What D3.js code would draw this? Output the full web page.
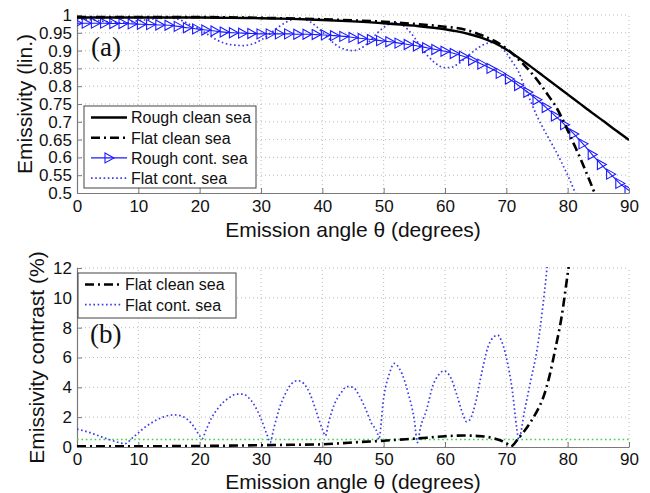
<!DOCTYPE html>
<html>
<head>
<meta charset="utf-8">
<script src="https://cdn.jsdelivr.net/npm/d3@7"></script>
<style>
  html, body { margin: 0; padding: 0; background: #fff; }
  svg { display: block; }
  text { font-family: "Liberation Sans", Arial, Helvetica, sans-serif; fill: #111; }
</style>
</head>
<body>
<svg id="chart" width="650" height="493"></svg>
<script>
// ---------- (a) emissivity versus emission angle ----------
const roughCleanAngles = [0,5,10,15,20,25,30,35,40,45,50,55,60,62,64,66,68,70,72,74,76,78,80,82,84,86,88,90];
const roughCleanSea    = [0.993,0.993,0.993,0.993,0.993,0.992,0.991,0.989,0.986,0.982,0.977,0.970,0.960,0.954,0.946,0.936,0.922,0.903,0.880,0.855,0.829,0.803,0.777,0.751,0.725,0.700,0.674,0.649];

const flatCleanAngles = [0,10,20,30,40,45,50,55,60,63,66,68,70,71,72,73,74,75,76,77,78,79,80,81,82,83,84,85];
const flatCleanSea    = [0.994,0.994,0.994,0.992,0.988,0.985,0.981,0.975,0.967,0.960,0.943,0.928,0.906,0.892,0.875,0.858,0.839,0.818,0.795,0.770,0.745,0.713,0.676,0.638,0.600,0.559,0.517,0.472];

// rough contaminated sea, one marker per sample (every 1.5 degrees)
const roughContAngles = [0,1.5,3,4.5,6,7.5,9,10.5,12,13.5,15,16.5,18,19.5,21,22.5,24,25.5,27,28.5,30,31.5,33,34.5,36,37.5,39,40.5,42,43.5,45,46.5,48,49.5,51,52.5,54,55.5,57,58.5,60,61.5,63,64.5,66,67.5,69,70.5,72,73.5,75,76.5,78,79.5,81,82.5,84,85.5,87,88.5,90];
const roughContSea    = [0.977,0.977,0.977,0.977,0.976,0.976,0.975,0.974,0.973,0.972,0.971,0.968,0.964,0.961,0.958,0.955,0.952,0.950,0.949,0.948,0.947,0.947,0.947,0.947,0.946,0.946,0.945,0.944,0.942,0.940,0.937,0.934,0.931,0.928,0.925,0.921,0.917,0.913,0.908,0.903,0.898,0.892,0.884,0.873,0.862,0.850,0.836,0.820,0.802,0.783,0.762,0.740,0.716,0.692,0.666,0.638,0.608,0.580,0.553,0.527,0.507];

const flatContAngles = d3.range(0, 83);
const flatContSea    = [0.989,0.988,0.987,0.985,0.983,0.981,0.980,0.978,0.978,0.981,0.984,0.986,0.988,0.990,0.991,0.992,0.990,0.985,0.977,0.968,0.960,0.949,0.938,0.928,0.921,0.917,0.915,0.914,0.916,0.921,0.930,0.941,0.955,0.968,0.979,0.986,0.990,0.988,0.981,0.968,0.952,0.935,0.919,0.908,0.902,0.900,0.904,0.915,0.932,0.950,0.965,0.975,0.978,0.972,0.958,0.937,0.912,0.889,0.871,0.858,0.852,0.853,0.861,0.874,0.889,0.903,0.914,0.921,0.923,0.912,0.893,0.868,0.840,0.797,0.756,0.716,0.682,0.651,0.620,0.586,0.550,0.510,0.470];

// ---------- (b) emissivity contrast (%) ----------
const contrastCleanAngles = [0,10,20,30,35,40,43,46,50,52,55,57,60,63,66,68,69,70,70.7,72,73,74,75,76,77,78,79,80,81];
const contrastCleanSea    = [0.05,0.05,0.07,0.12,0.15,0.18,0.25,0.33,0.42,0.48,0.56,0.62,0.72,0.77,0.72,0.58,0.45,0.25,0.03,0.6,1.1,1.7,2.4,3.3,4.7,6.6,8.7,11.6,14.5];

const contrastContAngles = [0,1,2,3,4,5,6,7,7.8,9,10,11,12,13,14,15,16,17,18,19,20,20.4,21,22,23,24,25,26,27,28,29,30,31,31.5,32,33,34,35,36,37,38,39,40,40.5,41,42,43,44,45,46,47,48,49,49.2,50,51,51.7,52.5,53,54,55,55.5,56,57,58,59,59.8,61,62,63,63.5,64,65,66,67,68,68.6,69,70,71,71.7,72,73,74,75,76,77];
const contrastContSea    = [1.2,1.1,0.98,0.83,0.68,0.53,0.4,0.28,0.22,0.6,0.95,1.3,1.58,1.82,2.0,2.12,2.15,2.08,1.85,1.4,0.75,0.55,1.1,2.0,2.6,3.05,3.35,3.55,3.55,3.3,2.75,1.9,0.8,0.3,1.1,2.6,3.6,4.25,4.45,4.25,3.55,2.4,1.2,0.75,1.6,2.9,3.6,4.05,4.0,3.45,2.6,1.6,0.9,0.5,3.3,5.0,5.6,5.3,4.9,3.6,1.8,0.3,1.3,2.5,4.1,4.85,5.1,4.6,3.4,2.1,1.7,1.8,3.0,5.0,6.7,7.4,7.5,7.3,6.0,3.7,1.25,0.5,2.5,4.5,6.5,9.6,13.5];

const thresholdAngles = [0, 90];
const thresholdLevel  = [0.5, 0.5];

// ---------- ticks and labels ----------
const xTicks = [0,10,20,30,40,50,60,70,80,90];
const yTicksA = [0.5,0.55,0.6,0.65,0.7,0.75,0.8,0.85,0.9,0.95,1];
const yTicksB = [0,2,4,6,8,10,12];
const xTitle = "Emission angle \u03b8 (degrees)";
const yTitleA = "Emissivity (lin.)";
const yTitleB = "Emissivity contrast (%)";
const legendA = ["Rough clean sea", "Flat clean sea", "Rough cont. sea", "Flat cont. sea"];
const legendB = ["Flat clean sea", "Flat cont. sea"];

// ---------- styles ----------
const BLUE = "#1a1aff";
const BLUE_DOT = "#3b3be8";
const styles = {
  roughClean: { stroke: "#000", width: 2.4, dash: null },
  flatClean:  { stroke: "#000", width: 2.6, dash: "9,4,2,4" },
  roughCont:  { stroke: BLUE, width: 1.1, dash: null },
  flatCont:   { stroke: BLUE_DOT, width: 1.7, dash: "1.6,2.6" },
  threshold:  { stroke: "#3ed43e", width: 1.6, dash: "1.6,2.8" }
};

const svg = d3.select("#chart");
const left = 77, right = 629;

function zip(a, b) { return a.map((v, i) => [v, b[i]]); }

function panel(id, yDomain, top, bottom, yTicks, yFmt, yTitle, yTitleX, xPad, xTitleGap) {
  const x = d3.scaleLinear().domain([0, 90]).range([left, right]);
  const y = d3.scaleLinear().domain(yDomain).range([bottom, top]);
  const g = svg.append("g");

  g.append("clipPath").attr("id", "clip-" + id)
    .append("rect").attr("x", left).attr("y", top - 1)
    .attr("width", right - left).attr("height", bottom - top + 1);

  // dotted grid
  const grid = g.append("g").attr("stroke", "#a8a8a8").attr("stroke-width", 0.8)
    .attr("stroke-dasharray", "1,3");
  grid.selectAll(".gx").data(xTicks.slice(1)).join("line")
    .attr("x1", d => x(d)).attr("x2", d => x(d)).attr("y1", bottom).attr("y2", top);
  grid.selectAll(".gy").data(yTicks.slice(1)).join("line")
    .attr("x1", left).attr("x2", right).attr("y1", d => y(d)).attr("y2", d => y(d));

  // axes with inward ticks
  const ax = g.append("g").attr("transform", `translate(0,${bottom})`)
    .call(d3.axisBottom(x).tickValues(xTicks).tickSizeInner(-5).tickSizeOuter(0).tickPadding(xPad));
  const ay = g.append("g").attr("transform", `translate(${left},0)`)
    .call(d3.axisLeft(y).tickValues(yTicks).tickFormat(yFmt).tickSizeInner(-5).tickSizeOuter(0).tickPadding(5));
  [ax, ay].forEach(a => {
    a.select(".domain").attr("stroke", "#7a7a7a").attr("stroke-width", 1.2);
    a.selectAll(".tick line").attr("stroke", "#7a7a7a");
    a.selectAll(".tick text").attr("font-size", 17)
      .attr("font-family", "'Liberation Sans', Arial, Helvetica, sans-serif").attr("fill", "#111");
  });

  g.append("text").attr("x", (left + right) / 2).attr("y", bottom + xTitleGap)
    .attr("text-anchor", "middle").attr("font-size", 21).text(xTitle);
  g.append("text").attr("transform", `translate(${yTitleX},${(top + bottom) / 2}) rotate(-90)`)
    .attr("text-anchor", "middle").attr("font-size", 21).text(yTitle);

  const plot = g.append("g").attr("clip-path", `url(#clip-${id})`);
  return { x, y, g, plot };
}

function drawLine(p, angles, values, st, curve) {
  const line = d3.line().x(d => p.x(d[0])).y(d => p.y(d[1])).curve(curve || d3.curveMonotoneX);
  return p.plot.append("path").datum(zip(angles, values))
    .attr("d", line).attr("fill", "none")
    .attr("stroke", st.stroke).attr("stroke-width", st.width)
    .attr("stroke-dasharray", st.dash).attr("stroke-linejoin", "round");
}

const triangle = "M-4,-5L5,0L-4,5Z";

// ----- panel (a) -----
const pa = panel("a", [0.5, 1], 15, 193, yTicksA, d3.format("~g"), yTitleA, 32, 7, 44);
drawLine(pa, flatContAngles, flatContSea, styles.flatCont);
drawLine(pa, roughContAngles, roughContSea, styles.roughCont);
pa.plot.append("g").selectAll("path").data(zip(roughContAngles, roughContSea)).join("path")
  .attr("d", triangle).attr("transform", d => `translate(${pa.x(d[0])},${pa.y(d[1])})`)
  .attr("fill", "none").attr("stroke", BLUE).attr("stroke-width", 1.1);
drawLine(pa, roughCleanAngles, roughCleanSea, styles.roughClean);
drawLine(pa, flatCleanAngles, flatCleanSea, styles.flatClean);

pa.g.append("text").attr("x", 91).attr("y", 56).attr("font-size", 27)
  .style("font-family", "'Liberation Serif', 'Times New Roman', serif").text("(a)");

function legend(p, x0, y0, w, h, items) {
  const lg = p.g.append("g");
  lg.append("rect").attr("x", x0).attr("y", y0).attr("width", w).attr("height", h)
    .attr("fill", "#fff").attr("stroke", "#444").attr("stroke-width", 1);
  items.forEach((it, i) => {
    const cy = y0 + 11.5 + i * 20.2;
    lg.append("line").attr("x1", x0 + 7).attr("x2", x0 + 43).attr("y1", cy).attr("y2", cy)
      .attr("stroke", it.st.stroke).attr("stroke-width", it.st.width).attr("stroke-dasharray", it.st.dash);
    if (it.marker) {
      lg.append("path").attr("d", triangle).attr("transform", `translate(${x0 + 25},${cy})`)
        .attr("fill", "none").attr("stroke", BLUE).attr("stroke-width", 1.1);
    }
    lg.append("text").attr("x", x0 + 47).attr("y", cy + 5.8).attr("font-size", 16).text(it.label);
  });
}

legend(pa, 84, 106, 172, 82, [
  { label: legendA[0], st: styles.roughClean },
  { label: legendA[1], st: styles.flatClean },
  { label: legendA[2], st: styles.roughCont, marker: true },
  { label: legendA[3], st: styles.flatCont }
]);

// ----- panel (b) -----
const pb = panel("b", [0, 12], 268, 447, yTicksB, d3.format("d"), yTitleB, 44, 6, 42);
drawLine(pb, thresholdAngles, thresholdLevel, styles.threshold, d3.curveLinear);
drawLine(pb, contrastContAngles, contrastContSea, styles.flatCont);
drawLine(pb, contrastCleanAngles, contrastCleanSea, styles.flatClean);

pb.g.append("text").attr("x", 90).attr("y", 343).attr("font-size", 27)
  .style("font-family", "'Liberation Serif', 'Times New Roman', serif").text("(b)");

legend(pb, 78, 273, 158, 45, [
  { label: legendB[0], st: styles.flatClean },
  { label: legendB[1], st: styles.flatCont }
]);
</script>
</body>
</html>
